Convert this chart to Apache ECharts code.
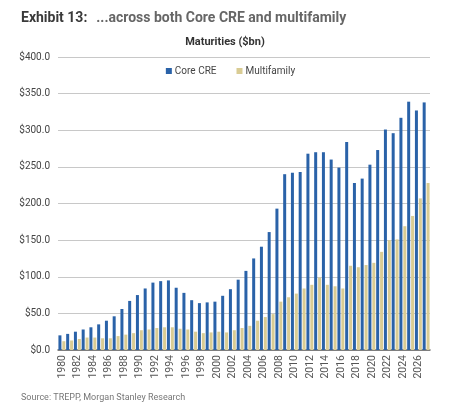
<!DOCTYPE html>
<html>
<head>
<meta charset="utf-8">
<script src="https://cdn.jsdelivr.net/npm/echarts@6/dist/echarts.min.js"></script>
<style>
  html, body { margin: 0; padding: 0; background: #fff; }
  #chart { width: 461px; height: 411px; }
</style>
</head>
<body>
<div id="chart"></div>
<script>
// 到期规模（十亿美元）
const years = [];
for (let y = 1980; y <= 2027; y++) years.push(String(y));

const coreCre = [
  20, 22, 25, 28, 31, 35, 40, 46, 56, 67,
  75, 84, 92, 94, 95, 85, 78, 68, 64, 65,
  66, 74, 83, 96, 108, 125, 141, 161, 193, 240,
  242, 243, 268, 270, 270, 260, 249, 284, 228, 234,
  253, 273, 301, 296, 317, 339, 327, 338
];
const multifamily = [
  12, 13, 15, 17, 17, 16, 16, 19, 21, 23,
  27, 28, 30, 31, 31, 29, 28, 25, 23, 24,
  25, 24, 27, 30, 33, 40, 45, 49, 66, 72,
  77, 84, 89, 99, 89, 87, 84, 115, 113, 116,
  119, 134, 150, 151, 169, 183, 207, 228
];
const yTicks = [0, 50, 100, 150, 200, 250, 300, 350, 400];

let chart = echarts.init(document.getElementById('chart'), null, { renderer: 'canvas' });

let option = {
  backgroundColor: '#fff',
  animation: false,
  textStyle: { fontFamily: 'Roboto' },
  title: [{
    left: 16, top: 4,
    text: '{b|Exhibit 13:}  {n|...across both Core CRE and multifamily}',
    textStyle: {
      rich: {
        b: { fontSize: 14, fontWeight: 'bold', color: '#3a3a3a', fontFamily: 'Roboto' },
        n: { fontSize: 14, color: '#666', fontFamily: 'Roboto' }
      }
    }
  }, {
    left: 220, top: 32, textAlign: 'center',
    text: 'Maturities ($bn)',
    textStyle: { fontSize: 11, fontWeight: 'bold', color: '#333', fontFamily: 'Roboto' }
  }, {
    left: 16, top: 388,
    text: 'Source: TREPP, Morgan Stanley Research',
    textStyle: { fontSize: 9, fontWeight: 'normal', color: '#777', fontFamily: 'Roboto' }
  }],
  legend: {
    top: 61, left: 'center',
    itemWidth: 6, itemHeight: 6, itemGap: 20,
    icon: 'rect',
    textStyle: { fontSize: 10, color: '#444', padding: [0, 0, 0, -2] },
    data: ['Core CRE', 'Multifamily']
  },
  grid: { left: 58, right: 31, top: 57, bottom: 61, containLabel: false },
  xAxis: {
    type: 'category',
    data: years,
    axisLine: { lineStyle: { color: '#666', width: 1.5 } },
    axisTick: { show: false },
    axisLabel: {
      interval: 1, rotate: 90, fontSize: 10.5, color: '#555', margin: 5
    }
  },
  yAxis: {
    type: 'value',
    min: 0, max: 400, interval: 50,
    axisLine: { show: false },
    axisTick: { show: false },
    splitLine: { lineStyle: { color: '#c8c8c8', width: 1 } },
    axisLabel: {
      fontSize: 10, color: '#444', margin: 8,
      formatter: v => yTicks.includes(v) ? '$' + v.toFixed(1) : ''
    }
  },
  series: [{
    name: 'Core CRE',
    type: 'bar',
    data: coreCre,
    barWidth: 3,
    barGap: '30%',
    itemStyle: { color: '#2a62a8' }
  }, {
    name: 'Multifamily',
    type: 'bar',
    data: multifamily,
    barWidth: 3,
    itemStyle: { color: '#d9cc94' }
  }]
};

chart.setOption(option);
</script>
</body>
</html>
